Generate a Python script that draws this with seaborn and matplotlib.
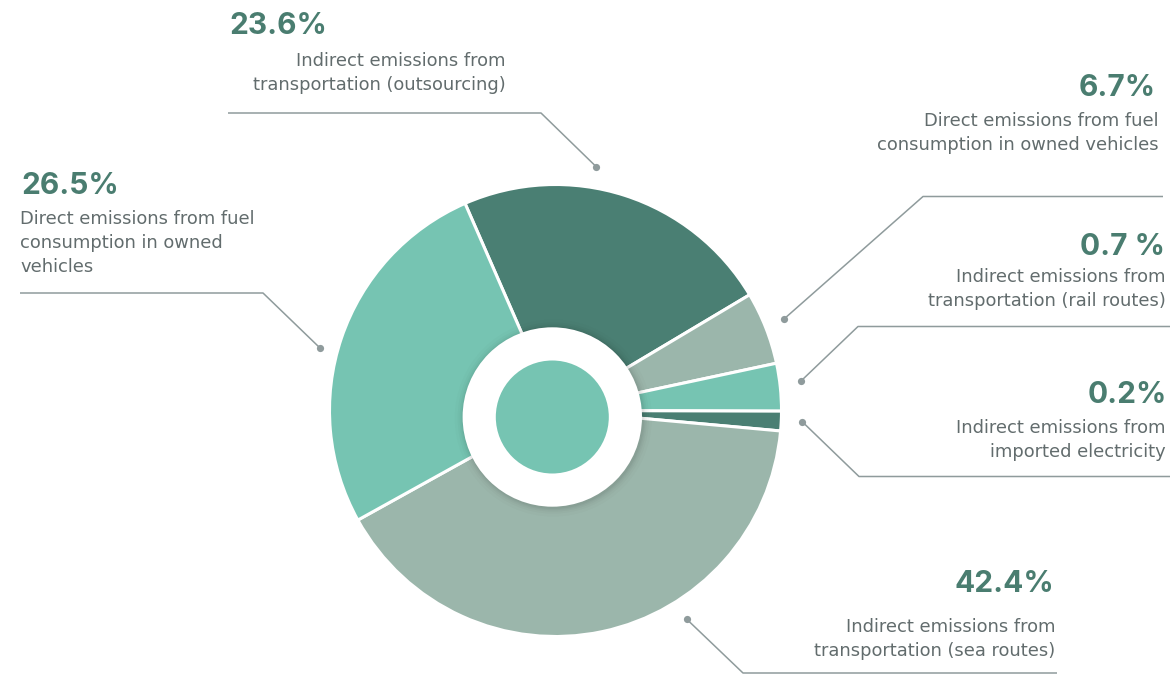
import matplotlib
matplotlib.use("Agg")
import matplotlib.pyplot as plt
from matplotlib.patches import Circle
import seaborn as sns

# ---- data (wedge shares read from the drawn wedges; label texts as printed) ----
categories = [
    "Indirect emissions from transportation (outsourcing)",
    "Direct emissions from fuel consumption in owned vehicles",
    "Indirect emissions from transportation (rail routes)",
    "Indirect emissions from imported electricity",
    "Indirect emissions from transportation (sea routes)",
    "Direct emissions from fuel consumption in owned vehicles (2)",
]
wedge_share = [23.0, 5.2, 3.4, 1.4, 40.5, 26.5]
pct_labels = ["23.6%", "6.7%", "0.7 %", "0.2%", "42.4%", "26.5%"]
desc_lines = [
    ["Indirect emissions from", "transportation (outsourcing)"],
    ["Direct emissions from fuel", "consumption in owned vehicles"],
    ["Indirect emissions from", "transportation (rail routes)"],
    ["Indirect emissions from", "imported electricity"],
    ["Indirect emissions from", "transportation (sea routes)"],
    ["Direct emissions from fuel", "consumption in owned", "vehicles"],
]

DARK = "#4a7f73"
GRAY = "#9bb6ab"
TEAL = "#76c4b2"
palette = sns.color_palette([DARK, GRAY, TEAL, DARK, GRAY, TEAL])
PCT_COLOR = "#4a7d70"
TXT_COLOR = "#626c6d"
LINE_COLOR = "#8f9b9c"

sns.set_theme(style="white")
plt.rcParams["font.family"] = ["DejaVu Sans"]
PCT_FONT = ["Inter", "DejaVu Sans"]
DESC_FONT = ["DejaVu Sans"]

W, H = 1170, 675
fig = plt.figure(figsize=(W / 100, H / 100), dpi=100)
ax = fig.add_axes([0, 0, 1, 1])

def Y(y):
    return H - y

# ---- donut ----
ax.pie(wedge_share, colors=palette, startangle=113.6, counterclock=False,
       center=(555.5, Y(410.5)), radius=226,
       wedgeprops=dict(edgecolor="white", linewidth=2.2))

hole_c = (552.3, Y(417))
# soft shadow around the hole
for k, a in [(9, 0.012), (6, 0.018), (4, 0.022), (2.5, 0.028), (1.2, 0.035)]:
    ax.add_patch(Circle((hole_c[0] + 1, hole_c[1] - 1), 89.7 + k,
                        facecolor="black", alpha=a, edgecolor="none", zorder=3))
ax.add_patch(Circle(hole_c, 89.7, facecolor="white", edgecolor="none", zorder=4))
ax.add_patch(Circle(hole_c, 56.5, facecolor=TEAL, edgecolor="none", zorder=5))

# ---- leader lines (polyline from text side to the dot) ----
leaders = [
    [(228, 113), (541, 113), (596, 166.5)],
    [(1163, 196.5), (923, 196.5), (784, 319)],
    [(1170, 326.5), (858, 326.5), (801, 381)],
    [(1170, 476.5), (859, 476.5), (802, 421.5)],
    [(1057, 673), (743, 673), (686.5, 619)],
    [(20, 293), (263, 293), (319.5, 347.5)],
]
for pts in leaders:
    xs = [p[0] for p in pts]
    ys = [Y(p[1]) for p in pts]
    ax.plot(xs, ys, color=LINE_COLOR, lw=1.1, solid_capstyle="butt", zorder=6)
    ax.plot(xs[-1], ys[-1], "o", color=LINE_COLOR, ms=5.2, mec="none", zorder=7)

# ---- labels ----
# (pct x, pct y, pct ha, desc x, first line y, ha)
label_pos = [
    (229, 25.5, "left", 506, 61, "right"),
    (1156, 87.5, "right", 1159, 121, "right"),
    (1165, 247, "right", 1166, 277, "right"),
    (1167, 395, "right", 1166, 428, "right"),
    (1054, 583.5, "right", 1055, 627, "right"),
    (21, 185.5, "left", 20, 218.5, "left"),
]
LINE_GAP = 24
for pct, lines, (px, py, pha, dx, dy, dha) in zip(pct_labels, desc_lines, label_pos):
    ax.text(px, Y(py), pct, ha=pha, va="center", fontsize=21.5, fontweight="bold",
            family=PCT_FONT, color=PCT_COLOR, zorder=8)
    for i, ln in enumerate(lines):
        ax.text(dx, Y(dy + i * LINE_GAP), ln, ha=dha, va="center", fontsize=12.9,
                family=DESC_FONT, color=TXT_COLOR, zorder=8)

ax.set_xlim(0, W)
ax.set_ylim(0, H)
ax.set_aspect("equal")
ax.axis("off")

fig.savefig("out.png", dpi=100, facecolor="white")
